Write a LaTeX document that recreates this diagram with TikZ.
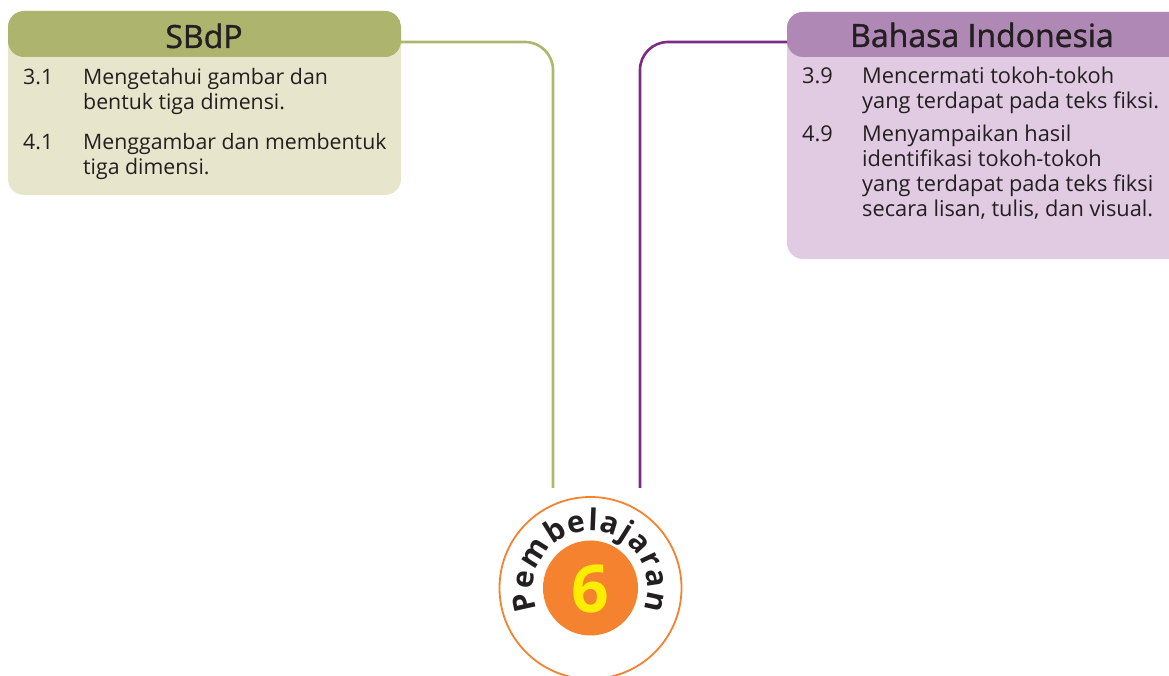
\documentclass[tikz,border=0pt]{standalone}
\usepackage{fontspec}
\setmainfont{Open Sans}
\newfontfamily\titlefont{Open Sans}[FakeBold=1.2]
\newfontfamily\boldfont{Open Sans Bold}
\usetikzlibrary{decorations.text}
\definecolor{oliveH}{HTML}{ADB46E}
\definecolor{oliveB}{HTML}{E7E5CC}
\definecolor{purpH}{HTML}{B088B6}
\definecolor{purpB}{HTML}{E0CBE3}
\definecolor{purpL}{HTML}{7D2A82}
\definecolor{greenL}{HTML}{ADB76C}
\definecolor{orng}{HTML}{F4822E}
\definecolor{yell}{HTML}{FFED00}
\definecolor{ink}{HTML}{231F20}
\tikzset{
  x=1pt, y=1pt,
  panel/.style={rectangle, rounded corners=16pt, inner sep=0pt, outer sep=0pt, anchor=north west},
  ttl/.style={anchor=base, text=ink, font=\titlefont\fontsize{32}{34}\selectfont, inner sep=0pt},
  ln/.style={anchor=base west, text=ink, inner sep=0pt, font=\fontsize{#1}{25}\selectfont},
  conn/.style={line width=2.6pt, rounded corners=28pt},
}
\begin{document}
\begin{tikzpicture}
\useasboundingbox (0,0) rectangle (1169,676);
\clip (0,0) rectangle (1169,676);
% panels
\node[panel, fill=oliveB, minimum width=393pt, minimum height=184pt,
  path picture={\fill[oliveH] (path picture bounding box.north west) rectangle ([yshift=-46pt]path picture bounding box.north east);}]
  (sbdp) at (8,665) {};
\node[panel, fill=purpB, minimum width=400pt, minimum height=247pt,
  path picture={\fill[purpH] (path picture bounding box.north west) rectangle ([yshift=-45pt]path picture bounding box.north east);}]
  (bind) at (787,664) {};
% titles
\node[ttl] (t1) at (204,628) {SBdP};
\node[ttl] (t2) at (982,629) {Bahasa Indonesia};
% left items
\node[ln=21.3] (n31) at (23,591) {3.1};
\node[ln=21.3] (i31a) at (83,591) {Mengetahui gambar dan};
\node[ln=21.3] (i31b) at (83,566) {bentuk tiga dimensi.};
\node[ln=21.3] (n41) at (23,526) {4.1};
\node[ln=21.3] (i41a) at (83,526) {Menggambar dan membentuk};
\node[ln=21.3] (i41b) at (83,501) {tiga dimensi.};
% right items
\node[ln=21.8] (n39) at (802,592) {3.9};
\node[ln=21.8] (i39a) at (862,592) {Mencermati tokoh-tokoh};
\node[ln=21.8] (i39b) at (862,567) {yang terdapat pada teks fiksi.};
\node[ln=21.8] (n49) at (802,534) {4.9};
\node[ln=21.8] (i49a) at (862,534) {Menyampaikan hasil};
\node[ln=21.8] (i49b) at (862,509) {identifikasi tokoh-tokoh};
\node[ln=21.8] (i49c) at (862,484) {yang terdapat pada teks fiksi};
\node[ln=21.8] (i49d) at (862,459) {secara lisan, tulis, dan visual.};
% circle
\coordinate (cc) at (590.5,88);
\node[circle, draw=orng, line width=1.8pt, minimum size=182pt, inner sep=0pt] (ring) at (cc) {};
\node[circle, fill=orng, minimum size=95pt, inner sep=0pt] (core) at (cc) {};
\node[text=yell, font=\boldfont\fontsize{66}{70}\selectfont, inner sep=0pt] (six) at (590.5,87) {6};
\path[decorate, decoration={text along path, text align=fit to path,
  text={|\boldfont\fontsize{30}{32}\selectfont\color{ink}|Pembelajaran}}]
  ([shift={(202:57)}]cc) arc[start angle=202, end angle=-22, radius=57];
% connectors
\coordinate (gend) at (553,188);
\coordinate (pend) at (640,188);
\draw[conn, greenL] ([yshift=-31pt]sbdp.north east) -- (553,634) -- (gend);
\draw[conn, purpL] ([yshift=-30pt]bind.north west) -- (640,634) -- (pend);
\end{tikzpicture}
\end{document}
